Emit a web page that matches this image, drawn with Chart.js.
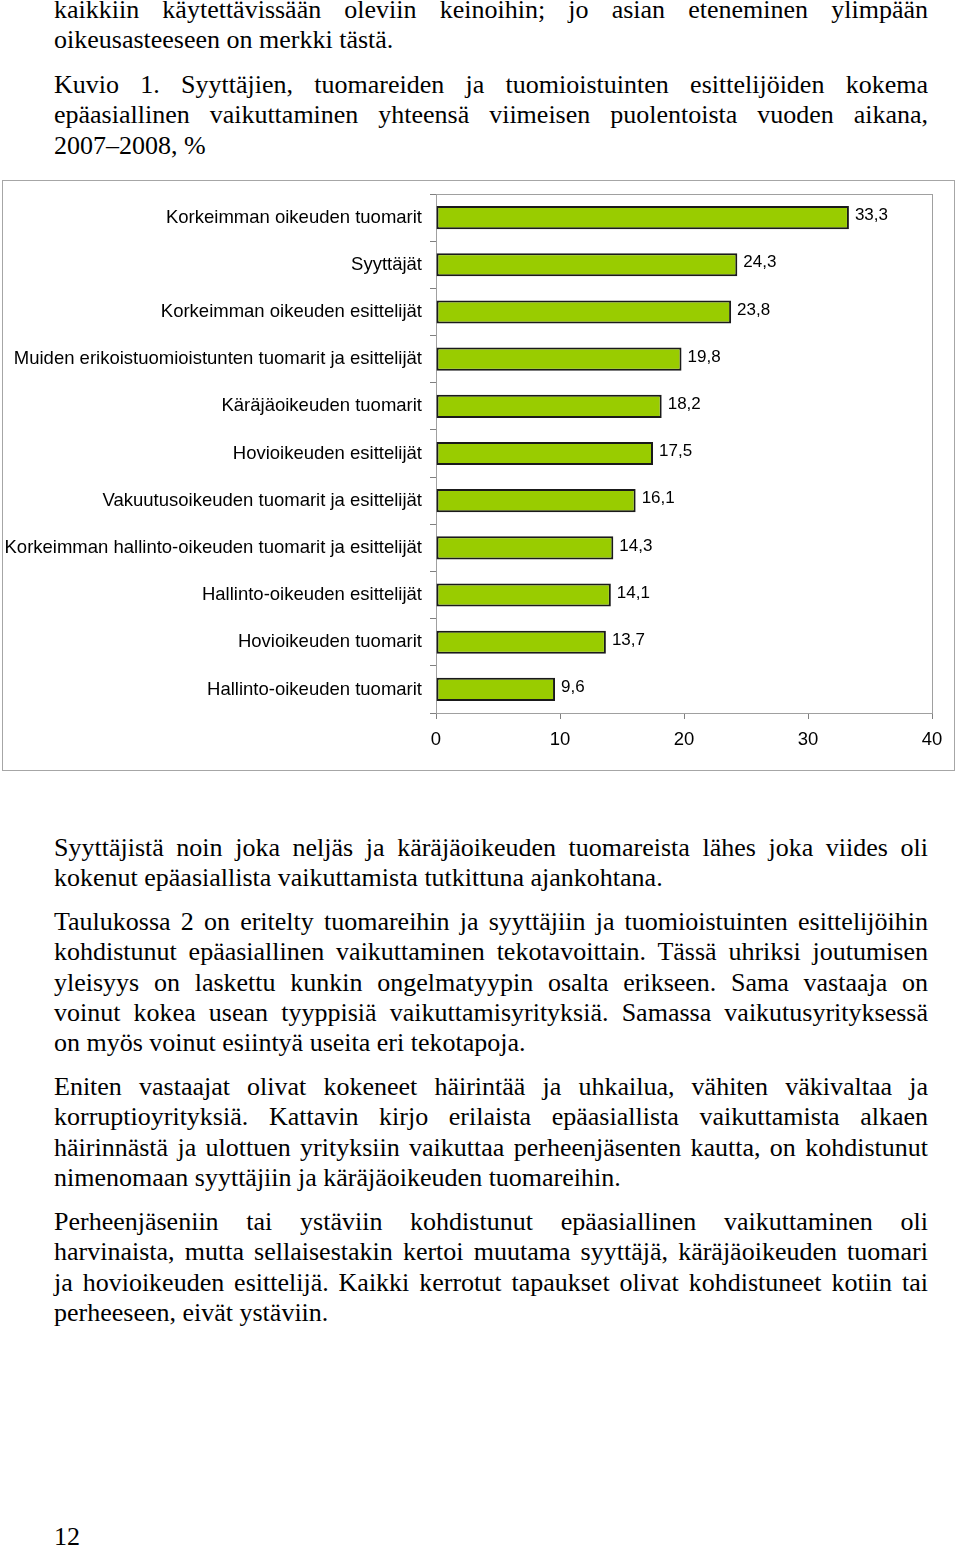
<!DOCTYPE html>
<html>
<head>
<meta charset="utf-8">
<script src="https://cdn.jsdelivr.net/npm/chart.js@4"></script>
<style>
  body { margin: 0; background: #fff; width: 960px; height: 1548px; position: relative; overflow: hidden; }
  .txt { position: absolute; left: 54px; width: 874px; font-family: "Liberation Serif", "Times New Roman", serif; font-size: 26px; line-height: 30.3px; color: #000; }
  .txt div { text-align: justify; text-align-last: justify; white-space: nowrap; }
  .txt div.last { text-align-last: left; }
  #box { position: absolute; left: 2px; top: 180px; width: 951px; height: 589px; border: 1px solid #a6a6a6; }
</style>
</head>
<body>

<div class="txt" style="top:-5px">
  <div>kaikkiin käytettävissään oleviin keinoihin; jo asian eteneminen ylimpään</div>
  <div class="last">oikeusasteeseen on merkki tästä.</div>
</div>

<div class="txt" style="top:70px">
  <div>Kuvio 1. Syyttäjien, tuomareiden ja tuomioistuinten esittelijöiden kokema</div>
  <div>epäasiallinen vaikuttaminen yhteensä viimeisen puolentoista vuoden aikana,</div>
  <div class="last">2007–2008, %</div>
</div>

<div id="box"><canvas id="chart"></canvas></div>

<div class="txt" style="top:833px">
  <div>Syyttäjistä noin joka neljäs ja käräjäoikeuden tuomareista lähes joka viides oli</div>
  <div class="last">kokenut epäasiallista vaikuttamista tutkittuna ajankohtana.</div>
</div>

<div class="txt" style="top:907px">
  <div>Taulukossa 2 on eritelty tuomareihin ja syyttäjiin ja tuomioistuinten esittelijöihin</div>
  <div>kohdistunut epäasiallinen vaikuttaminen tekotavoittain. Tässä uhriksi joutumisen</div>
  <div>yleisyys on laskettu kunkin ongelmatyypin osalta erikseen. Sama vastaaja on</div>
  <div>voinut kokea usean tyyppisiä vaikuttamisyrityksiä. Samassa vaikutusyrityksessä</div>
  <div class="last">on myös voinut esiintyä useita eri tekotapoja.</div>
</div>

<div class="txt" style="top:1072px">
  <div>Eniten vastaajat olivat kokeneet häirintää ja uhkailua, vähiten väkivaltaa ja</div>
  <div>korruptioyrityksiä. Kattavin kirjo erilaista epäasiallista vaikuttamista alkaen</div>
  <div>häirinnästä ja ulottuen yrityksiin vaikuttaa perheenjäsenten kautta, on kohdistunut</div>
  <div class="last">nimenomaan syyttäjiin ja käräjäoikeuden tuomareihin.</div>
</div>

<div class="txt" style="top:1207px">
  <div>Perheenjäseniin tai ystäviin kohdistunut epäasiallinen vaikuttaminen oli</div>
  <div>harvinaista, mutta sellaisestakin kertoi muutama syyttäjä, käräjäoikeuden tuomari</div>
  <div>ja hovioikeuden esittelijä. Kaikki kerrotut tapaukset olivat kohdistuneet kotiin tai</div>
  <div class="last">perheeseen, eivät ystäviin.</div>
</div>

<div class="txt" style="top:1522px"><div class="last">12</div></div>

<script>
// Data
const categories = [
  "Korkeimman oikeuden tuomarit",
  "Syyttäjät",
  "Korkeimman oikeuden esittelijät",
  "Muiden erikoistuomioistunten tuomarit ja esittelijät",
  "Käräjäoikeuden tuomarit",
  "Hovioikeuden esittelijät",
  "Vakuutusoikeuden tuomarit ja esittelijät",
  "Korkeimman hallinto-oikeuden tuomarit ja esittelijät",
  "Hallinto-oikeuden esittelijät",
  "Hovioikeuden tuomarit",
  "Hallinto-oikeuden tuomarit"
];
const percentages = [33.3, 24.3, 23.8, 19.8, 18.2, 17.5, 16.1, 14.3, 14.1, 13.7, 9.6];
const xTicks = [0, 10, 20, 30, 40];

const labelFont = { family: "'Liberation Sans', Arial, sans-serif", size: 18.5 };

// Value labels next to bar ends, Finnish decimal comma
const valueLabels = {
  id: "valueLabels",
  afterDatasetsDraw(chart) {
    const ctx = chart.ctx;
    const meta = chart.getDatasetMeta(0);
    ctx.save();
    ctx.font = "17px 'Liberation Sans', Arial, sans-serif";
    ctx.fillStyle = "#000";
    ctx.textAlign = "left";
    ctx.textBaseline = "middle";
    meta.data.forEach((bar, i) => {
      ctx.fillText(percentages[i].toFixed(1).replace(".", ","), bar.x + 6, bar.y - 2);
    });
    ctx.restore();
  }
};

// Light frame around the plot area
const plotFrame = {
  id: "plotFrame",
  beforeDatasetsDraw(chart) {
    const a = chart.chartArea;
    const ctx = chart.ctx;
    ctx.save();
    ctx.strokeStyle = "#a0a0a0";
    ctx.lineWidth = 1;
    ctx.strokeRect(a.left + 0.5, a.top + 0.5, a.right - a.left, a.bottom - a.top);
    ctx.restore();
  }
};

new Chart(document.getElementById("chart"), {
  type: "bar",
  data: {
    labels: categories,
    datasets: [{
      data: percentages,
      backgroundColor: "#99cc00",
      borderColor: "#1a1a1a",
      borderWidth: 2,
      borderSkipped: false,
      categoryPercentage: 1.0,
      barPercentage: 0.49
    }]
  },
  options: {
    indexAxis: "y",
    responsive: true,
    maintainAspectRatio: false,
    animation: false,
    layout: { padding: { top: 13, right: 22, left: 0, bottom: 0 } },
    plugins: { legend: { display: false }, tooltip: { enabled: false } },
    scales: {
      x: {
        min: 0,
        max: 40,
        afterBuildTicks: s => { s.ticks = xTicks.map(v => ({ value: v })); },
        afterFit: s => { s.height = 57; s.paddingLeft = 0; s.paddingRight = 0; },
        grid: { drawOnChartArea: false, tickLength: 6, color: "#808080" },
        border: { color: "#808080" },
        ticks: { font: labelFont, color: "#000", padding: 10, maxRotation: 0 }
      },
      y: {
        afterFit: s => { s.width = 433; s.paddingTop = 0; s.paddingBottom = 0; },
        grid: { drawOnChartArea: false, tickLength: 6, color: "#808080", offset: true },
        border: { color: "#808080" },
        ticks: { font: labelFont, color: "#000", padding: 8, autoSkip: false }
      }
    }
  },
  plugins: [plotFrame, valueLabels]
});
</script>
</body>
</html>
